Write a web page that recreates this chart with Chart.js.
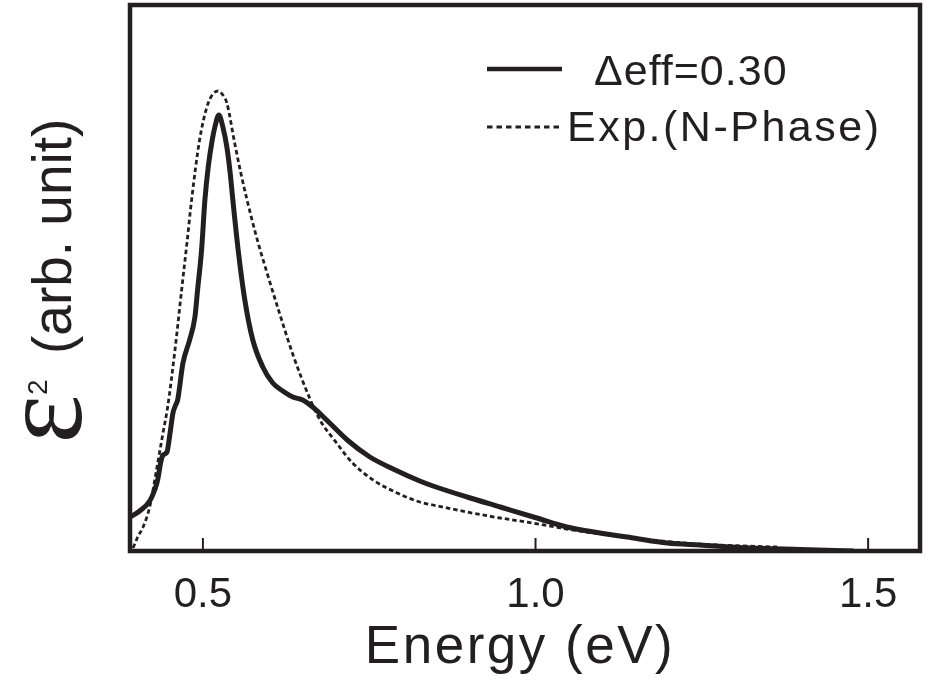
<!DOCTYPE html>
<html>
<head>
<meta charset="utf-8">
<script src="https://cdn.jsdelivr.net/npm/chart.js@4.4.0/dist/chart.umd.min.js"></script>
<style>
  html, body { margin: 0; padding: 0; background: #fff; }
  #wrap { width: 930px; height: 686px; }
</style>
</head>
<body>
<div id="wrap"><canvas id="eps2Chart" width="930" height="686"></canvas></div>
<script>
// imaginary part of the dielectric function, calculated vs. measured
const calcEnergy = [0.388, 0.405, 0.420, 0.428, 0.432, 0.437, 0.440, 0.446, 0.450, 0.455,
  0.459, 0.462, 0.470, 0.480, 0.488, 0.492, 0.498, 0.503, 0.508, 0.514,
  0.518, 0.524, 0.530, 0.536, 0.541, 0.545, 0.553, 0.563, 0.575, 0.590,
  0.605, 0.620, 0.635, 0.650, 0.665, 0.686, 0.717, 0.751, 0.786, 0.826,
  0.846, 0.897, 0.947, 1.002, 1.047, 1.097, 1.147, 1.198, 1.247, 1.323,
  1.398, 1.477];
const calcEps2 = [33, 40, 50, 62, 71, 90, 96, 99, 115, 138,
  146, 151, 188, 211, 234, 261, 301, 351, 384, 411,
  424, 436, 424, 404, 378, 351, 301, 251, 211, 184,
  168, 160, 154, 151, 144, 131, 111, 94, 82, 70,
  65, 54, 44, 33, 24, 18, 13, 8, 6, 3,
  1.5, 0];

const expEnergy = [0.395, 0.402, 0.410, 0.420, 0.431, 0.440, 0.447, 0.458, 0.468, 0.476,
  0.483, 0.495, 0.506, 0.515, 0.523, 0.530, 0.536, 0.548, 0.557, 0.566,
  0.581, 0.596, 0.616, 0.635, 0.661, 0.676, 0.701, 0.725, 0.756, 0.792,
  0.826, 0.846, 0.897, 0.947, 0.996, 1.047, 1.097, 1.147, 1.222, 1.273,
  1.363];
const expEps2 = [3, 14, 24, 44, 84, 118, 144, 201, 261, 308,
  351, 411, 444, 457, 460, 456, 448, 407, 378, 352,
  313, 279, 236, 197, 152, 131, 108, 88, 71, 58,
  49, 46, 39, 33, 28, 22, 17, 13, 8, 6,
  4];

const energyTicks = [0.5, 1.0, 1.5];
const seriesLabels = ['\u0394eff=0.30', 'Exp.(N-Phase)'];

const ink = '#231f20';
const sans = "'Liberation Sans', Arial, sans-serif";

function toPoints(xs, ys) {
  return xs.map((x, i) => ({ x: x, y: ys[i] }));
}

// frame, inward ticks, axis titles and the legend box
const decorations = {
  id: 'decorations',
  afterDraw(chart) {
    const { ctx, chartArea: a, scales: { x } } = chart;
    ctx.save();
    ctx.strokeStyle = ink;
    ctx.fillStyle = ink;

    ctx.lineWidth = 4.5;
    ctx.strokeRect(a.left, a.top, a.right - a.left, a.bottom - a.top);

    ctx.lineWidth = 2;
    x.ticks.forEach(t => {
      const px = x.getPixelForValue(t.value);
      ctx.beginPath();
      ctx.moveTo(px, a.bottom);
      ctx.lineTo(px, a.bottom - 13);
      ctx.stroke();
    });

    // x title
    ctx.font = '53px ' + sans;
    ctx.textAlign = 'center';
    ctx.textBaseline = 'alphabetic';
    if ('letterSpacing' in ctx) ctx.letterSpacing = '2.5px';
    ctx.fillText('Energy (eV)', 520, 663);
    if ('letterSpacing' in ctx) ctx.letterSpacing = '0px';

    // y title, rotated
    ctx.save();
    ctx.translate(71, 440);
    ctx.rotate(-Math.PI / 2);
    ctx.textAlign = 'left';
    ctx.font = "100px 'Liberation Serif', serif";
    const m = ctx.measureText('\u03b5');
    const gw = m.actualBoundingBoxLeft + m.actualBoundingBoxRight;
    const gh = m.actualBoundingBoxAscent + m.actualBoundingBoxDescent;
    ctx.save();
    ctx.translate(0, -46);
    ctx.scale(43 / gw, 57 / gh);
    ctx.fillText('\u03b5', m.actualBoundingBoxLeft, m.actualBoundingBoxAscent);
    ctx.restore();
    ctx.font = '28px ' + sans;
    ctx.fillText('2', 45, -24);
    ctx.font = '55px ' + sans;
    ctx.fillText('(arb. unit)', 86, 0);
    ctx.restore();

    // legend
    const rows = [{ y: 69, base: 85, tx: 594, sp: '1px' }, { y: 127, base: 141, tx: 567, sp: '2.5px' }];
    chart.data.datasets.forEach((ds, i) => {
      const r = rows[i];
      ctx.save();
      ctx.strokeStyle = ds.borderColor;
      ctx.lineWidth = i === 0 ? 4.5 : 3;
      ctx.setLineDash(i === 0 ? [] : [5.5, 4]);
      ctx.beginPath();
      ctx.moveTo(487, r.y);
      ctx.lineTo(562, r.y);
      ctx.stroke();
      ctx.restore();
      ctx.font = '43px ' + sans;
      ctx.textAlign = 'left';
      if ('letterSpacing' in ctx) ctx.letterSpacing = r.sp;
      ctx.fillText(ds.label, r.tx, r.base);
      if ('letterSpacing' in ctx) ctx.letterSpacing = '0px';
    });
    ctx.restore();
  }
};

const ctx = document.getElementById('eps2Chart').getContext('2d');
const eps2Chart = new Chart(ctx, {
  type: 'line',
  data: {
    datasets: [{
      label: seriesLabels[0],
      data: toPoints(calcEnergy, calcEps2),
      borderColor: ink,
      borderWidth: 5,
      borderCapStyle: 'round',
      pointRadius: 0,
      cubicInterpolationMode: 'monotone'
    }, {
      label: seriesLabels[1],
      data: toPoints(expEnergy, expEps2),
      borderColor: ink,
      borderWidth: 2.8,
      borderDash: [4.5, 3],
      pointRadius: 0,
      cubicInterpolationMode: 'monotone'
    }]
  },
  options: {
    responsive: false,
    animation: false,
    events: [],
    layout: { padding: { left: 130, right: 10, top: 5, bottom: 0 } },
    plugins: { legend: { display: false }, tooltip: { enabled: false } },
    scales: {
      x: {
        type: 'linear',
        min: 0.3904,
        max: 1.578,
        grid: { display: false, drawTicks: false },
        border: { display: false },
        afterBuildTicks: s => { s.ticks = energyTicks.map(v => ({ value: v })); },
        afterFit: s => { s.height = 135; },
        ticks: {
          padding: 19,
          color: ink,
          font: { family: sans, size: 42 },
          callback: v => v.toFixed(1)
        }
      },
      y: {
        display: false,
        min: 0,
        max: 546
      }
    }
  },
  plugins: [decorations]
});
</script>
</body>
</html>
